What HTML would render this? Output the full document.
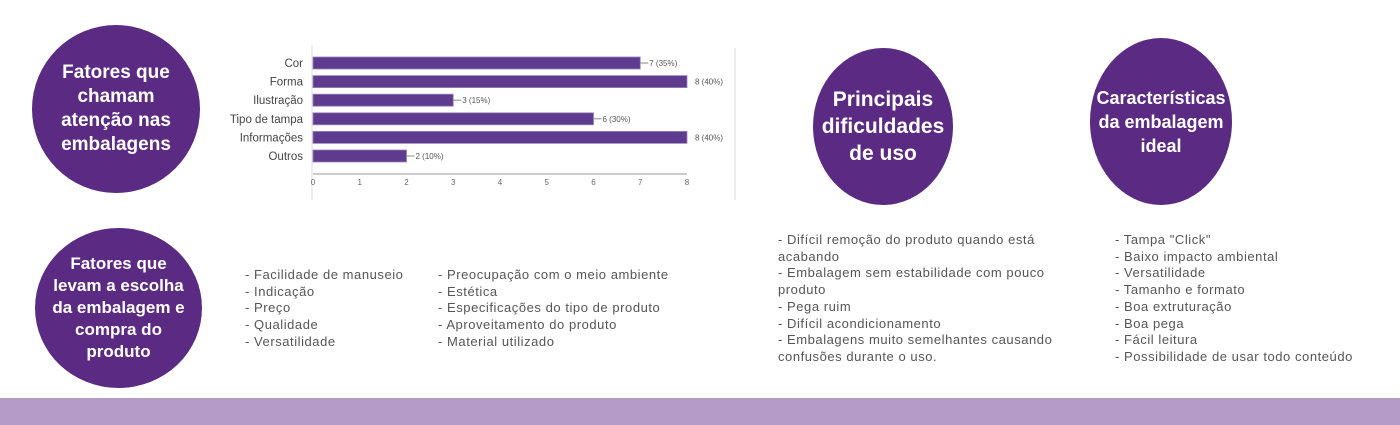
<!DOCTYPE html>
<html><head><meta charset="utf-8"><style>
body{margin:0;width:1400px;height:425px;background:#fff;position:relative;overflow:hidden;font-family:"Liberation Sans",sans-serif}
.c{position:absolute;background:#5b2a82;border-radius:50%;color:#fff;font-weight:bold;display:flex;align-items:center;justify-content:center;text-align:center}
.l{position:absolute;color:#555;font-size:13px;line-height:16.7px;white-space:nowrap;letter-spacing:0.55px}
</style></head><body>
<div class="c" style="left:32px;top:25px;width:168px;height:168px;font-size:19px;line-height:24px">Fatores que<br>chamam<br>atenção nas<br>embalagens</div>
<div class="c" style="left:35px;top:228px;width:167px;height:160px;font-size:17px;line-height:22px">Fatores que<br>levam a escolha<br>da embalagem e<br>compra do<br>produto</div>
<div class="c" style="left:813px;top:48px;width:140px;height:157px;font-size:21px;line-height:27px">Principais<br>dificuldades<br>de uso</div>
<div class="c" style="left:1090px;top:38px;width:142px;height:167px;font-size:18px;line-height:24px">Características<br>da embalagem<br>ideal</div>

<svg id="chart" width="1400" height="425" style="position:absolute;left:0;top:0"></svg>

<div class="l" style="left:245px;top:267px">- Facilidade de manuseio<br>- Indicação<br>- Preço<br>- Qualidade<br>- Versatilidade</div>
<div class="l" style="left:438px;top:267px">- Preocupação com o meio ambiente<br>- Estética<br>- Especificações do tipo de produto<br>- Aproveitamento do produto<br>- Material utilizado</div>
<div class="l" style="left:778px;top:232px">- Difícil remoção do produto quando está<br>acabando<br>- Embalagem sem estabilidade com pouco<br>produto<br>- Pega ruim<br>- Difícil acondicionamento<br>- Embalagens muito semelhantes causando<br>confusões durante o uso.</div>
<div class="l" style="left:1115px;top:232px">- Tampa "Click"<br>- Baixo impacto ambiental<br>- Versatilidade<br>- Tamanho e formato<br>- Boa extruturação<br>- Boa pega<br>- Fácil leitura<br>- Possibilidade de usar todo conteúdo</div>

<div style="position:absolute;left:0;top:398px;width:1400px;height:27px;background:#b59cc8"></div>

<script>
const categories=["Cor","Forma","Ilustração","Tipo de tampa","Informações","Outros"];
const values=[7,8,3,6,8,2];
const labels=["7 (35%)","8 (40%)","3 (15%)","6 (30%)","8 (40%)","2 (10%)"];
const ticks=[0,1,2,3,4,5,6,7,8];
const svg=document.getElementById('chart');
const NS='http://www.w3.org/2000/svg';
const x=v=>313+v*(687-313)/8;
const y=i=>63+i*18.6;
function mk(t,a){const e=document.createElementNS(NS,t);for(const k in a)e.setAttribute(k,a[k]);svg.appendChild(e);return e;}
let g=mk('line',{x1:312,y1:45,x2:312,y2:200,stroke:'#ddd'});


g=mk('line',{x1:735,y1:48,x2:735,y2:200,stroke:'#ddd'});


g=mk('line',{x1:313,y1:174,x2:687,y2:174,stroke:'#999'});


ticks.forEach(t=>{const e=mk('text',{x:x(t),y:185,'font-size':8,fill:'#666','text-anchor':'middle','font-family':'Liberation Sans'});e.textContent=t;

});
categories.forEach((c,i)=>{
 const t=mk('text',{x:303,y:y(i)+4,'font-size':11.5,fill:'#444','text-anchor':'end','font-family':'Liberation Sans'});t.textContent=c;
 
 
 const r=mk('rect',{x:x(0),y:y(i)-6,width:x(values[i])-x(0),height:12,fill:'#5e3b8e',stroke:'#9a84b8','stroke-width':0.8});
 
 
 const full=values[i]>=8;
 if(!full){const l=mk('line',{x1:x(values[i]),y1:y(i),x2:x(values[i])+8,y2:y(i),stroke:'#888'});
 
 }
 const v=mk('text',{x:x(values[i])+(full?8:9),y:y(i)+3,'font-size':8,fill:'#555','font-family':'Liberation Sans'});v.textContent=labels[i];
 
 
});
</script>
</body></html>
